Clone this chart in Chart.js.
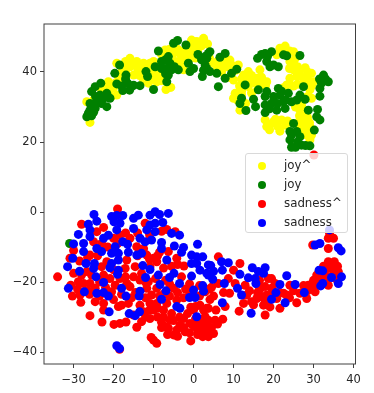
<!DOCTYPE html>
<html>
<head>
<meta charset="utf-8">
<script src="https://cdn.jsdelivr.net/npm/chart.js@4"></script>
<style>
  html, body { margin: 0; padding: 0; background: #fff; }
  #wrap { position: relative; width: 374px; height: 393px; overflow: hidden; }
  #legend {
    position: absolute; left: 245px; top: 153px; width: 103px; height: 80px;
    box-sizing: border-box; border: 1px solid #d9d9d9; border-radius: 3px;
    background: rgba(255, 255, 255, 0.8);
    font: 11.8px "DejaVu Sans", sans-serif; color: #262626;
  }
  .row { position: absolute; left: 0; height: 20px; line-height: 20px; white-space: nowrap; }
  .dot { position: absolute; left: 12px; top: 6px; width: 8px; height: 8px; border-radius: 50%; }
  .lab { position: absolute; left: 38px; top: -1px; }
</style>
</head>
<body>
<div id="wrap">
  <canvas id="chart" width="374" height="393"></canvas>
  <div id="legend"></div>
</div>
<script>
// t-SNE spredning, verdier lest av bildet
const seriesNames = ["joy^", "joy", "sadness^", "sadness"];
const seriesColors = ["#ffff00", "#008000", "#ff0000", "#0000ff"];
const xTicks = [-30, -20, -10, 0, 10, 20, 30, 40];
const yTicks = [-40, -20, 0, 20, 40];

const joyHat = [
  [-25.9,25.6],[-26.7,31.5],[-25,32],[-20.5,33],[-19.2,33.4],[-19.6,36.8],[-18.8,38.7],[-19.2,42.5],
  [-15.9,43.9],[-17.5,42],[-14.2,43],[-12.5,42.5],[-15.9,41.5],[-13.8,40.6],[-15,39.1],[-18.4,38.2],
  [-10.9,42.5],[-10,43],[-10,39.1],[-9.2,37.2],[-11.3,36.8],[-6.9,35],[-5.7,35.6],[-7.1,46.3],
  [-5,45.3],[-3.4,45.3],[-1.7,44.9],[0,48.7],[2.5,49.6],[0.8,47.2],[-0.5,45.3],[-3.4,42.5],
  [-2.5,40.6],[-8.4,39.1],[-9.6,40.6],[-21.3,37.2],[2.5,49.3],[0.8,48.7],[-0.5,46.8],[-0.5,49.1],
  [9.1,43.4],[8.3,41.5],[5,42.5],[11.2,42],[10,37.7],[13.7,40.1],[12.5,39.1],[16.6,40.6],
  [15.8,38.2],[18.3,37.2],[16.6,36.8],[13.7,35.8],[10.4,33.9],[10,32.5],[11.6,29.1],[22.9,47.4],
  [21.6,46.8],[25,45.8],[20.8,44.9],[24.1,43],[25,40.6],[27.9,41.2],[29.5,39.6],[30,37.2],
  [29.1,34.9],[29.5,32.5],[24.1,38.2],[25.8,38.7],[23.3,36.3],[27.5,38.2],[17.9,26.3],[18.3,24.4],
  [20,25.8],[22,26.3],[21.6,23.1],[26.6,29.1],[27,28.2],[27.9,25.8],[29.1,24.4],[28.3,22],
  [29.1,20.6],[27.5,24.4],
  [-25,30],[-23,35],[-22,36],[-21,35],[-20,35.5],[-18,37],[-17,40],[-16,42],[-14,41],[-13,41.5],
  [-15,42.5],[-17,43],[-18,40],[-13.5,39],[-12.5,37.5],[-10.5,38],[-9,39],[-11,41],[-8,45],[-6,46.5],
  [-4,46.5],[-2.5,46],[-6,41],[-4.5,43],[-2,43.5],[-1,44],[0.5,44],[1,46],[2,47.5],[3.5,48],
  [1.5,48.5],[-1,47.5],[-3,44],[-7,39],[-8,37.5],[4,44],[6,43],[7,42],[8,43],[9.5,42],
  [10.5,40.5],[6,41],[7,40],[9,38.5],[12,38],[14,38],[15,37],[14.5,39],[17,38.5],[18,36],
  [16,35],[14.5,34],[12,34.5],[11.5,36],[12,33.5],[11,32],[13,31],[22,46],[24,46],[23,45],
  [25.5,44],[25,42.5],[26,41.5],[24,41],[26.5,39.5],[28.5,40],[28.5,38],[29,36.5],[28,36.5],[26,36.5],
  [25,36],[24,36.5],[22.5,35.5],[29.5,36],[28.5,33],[27,30.5],[25.5,30],[26.5,27.5],[28.5,27],[29,25.5],
  [26.5,26],[28.5,23],[27.5,22.5],[29.5,22],[26.5,24.5],[19,25],[19,23.5],[21,24.5],[20.5,26.5],[23,24.8],[23.5,26]
];
const joy = [
  [-26.7,27.2],[-25.9,29.1],[-24.6,29.6],[-25.9,31],[-25.5,34.4],[-24.6,35.8],[-23.2,36.8],[-23.4,33.4],
  [-21.7,33.9],[-20.9,32.5],[-21.7,30.1],[-24.2,31.5],[-26.3,28.2],[-19.2,36.6],[-19.7,39.6],[-18.5,42],
  [-16.9,39.1],[-16.5,36.8],[-17.7,34.7],[-15.5,35.8],[-13.4,36.1],[-11.5,38.7],[-11.9,40.1],[-10,35],
  [-8.8,46],[-5,48.2],[-4,49],[-1.9,47.7],[-9.6,41.5],[-8,43],[-6.3,44.4],[-5.9,42.5],
  [-7.1,41],[-5.5,40.6],[-6.3,39.1],[-6.7,37.2],[-3.8,40.6],[-1.3,42.5],[-0.9,40.1],[1.1,45],
  [2.2,38.7],[2.9,42],[3.7,45.3],[3.3,41],[4.1,45.8],[3.3,43.9],[4.1,40.1],[5.8,39.6],
  [7.9,45.3],[6.6,44.2],[10.8,40.8],[9.5,39.6],[7.9,38.2],[6.2,35.8],[12.9,36.3],[16,43.9],
  [17.9,45.3],[19.5,45.8],[18.3,43],[19.1,41.5],[21.2,41.5],[22.5,44.9],[23.3,44.6],[26.6,44.7],
  [32.5,39.1],[33.7,37.2],[32,36.8],[31.6,35.3],[31.6,33.1],[27.5,35.8],[16.2,34.9],[18.3,34.4],
  [17.9,33],[12,32.5],[11.6,31],[15,32.2],[15.5,30.1],[13.1,29],[21.2,35.3],[21.6,33.4],
  [23.7,33.9],[22.5,31.5],[25.8,32],[26.6,33.4],[27.9,32.2],[19.5,31],[17.9,30.6],[17.9,28.4],
  [20.8,29.1],[22.9,29.6],[28.7,29.1],[31,29.3],[30.8,27.2],[31.6,26.3],[30.2,23.4],[25,25.3],
  [24.1,23],[25.8,23],[24.1,20.6],[24.5,18.5],[26.6,21.5],[27,19.1],[29.1,18.9],[-31,-9],
  [20,33],[20,31.5],[19,29.5],[21,31],[23,32],[24.5,31.5],[22,34.5],[24.5,22],[26,20],[25.5,18.5],
  [28,19],[-24.5,33],[-23,31],[-22.5,32.5],[-25,28.5],[-25.5,27.5],[-17,38],[-18,36],[-15,36.2],[-16,34.8],
  [-8,41],[-7,43.5],[-7,39.5],[-4.8,41.5],[0,41],[3,44.5],[2,43.5],[2.5,40.5],[17,45],[18.5,44.5],
  [20,42],[31.5,38],[33,38]
];
const sadnessHat = [
  [-19,0.9],[-28,-3.5],[-22.5,-4.4],[-34,-18.5],[-30.9,-13.2],[-30,-17.5],[-30.7,-20.9],[-30.3,-24],
  [-28.2,-25.8],[-24.6,-25.6],[-28.8,-19.9],[-27.5,-20.4],[-25.9,-20.4],[-24.6,-21.8],[-28.4,-23.7],[-26.7,-17],
  [-23,-15.6],[-20.9,-19],[-22.5,-18],[-19.6,-20.9],[-20.5,-22.8],[-18.4,-19],[-17.1,-16.1],[-14.6,-15.6],
  [-15,-18.5],[-15.9,-21.3],[-11.7,-21.8],[-11.3,-19.9],[-10.5,-23.7],[-13.4,-19.4],[-9.2,-21.8],[-22.5,-26.1],
  [-22.5,-28],[-18.8,-27],[-16.3,-26.1],[-25.9,-29.6],[-22.9,-31.4],[-19.9,-32.1],[-18.4,-31.8],[-16.9,-31.4],
  [-14.2,-32.9],[-13,-31.3],[-10.9,-30.4],[-10,-28],[-7.5,-28],[-10.9,-26.1],[-9.2,-26.1],[-6.7,-26.1],
  [-4.2,-25.1],[-5.9,-30.9],[-6.3,-33.2],[-5,-35.1],[-3.4,-32.3],[-2.1,-34.2],[-0.9,-31.8],[-0.7,-36.8],
  [2.3,-35.6],[3.7,-35.6],[0.8,-33.2],[3.3,-32.8],[1.6,-26.6],[-0.7,-27.2],[3.7,-27.5],[2.9,-29.9],
  [-10.6,-35.8],[-10,-36.6],[-9.2,-37.5],[-2.4,-15.4],[-4.2,-13.2],[-6.3,-11.3],[-10,-13.2],[-11.7,-12.3],
  [-15.9,-7.5],[-14.2,-9.9],[-18.4,-6.6],[-20,-7.5],[-25.9,-12.3],[-25,-8.5],[-24.2,-5.6],[-6.7,-5],
  [-4.6,-5.6],[-12.1,-3.2],[-16.7,-20.4],[-21.7,-14.2],[-16.7,-13.7],[-10.9,-15.6],[-5,-21.8],[-9.2,-14.2],
  [-18,-26.6],[-15,-29.4],[-13.4,-26.6],[-2.5,-30.4],[-7.1,-32.8],[-4.2,-33.7],[2.5,-33.2],[-18.5,-39.2],
  [29.8,-9.4],[33.7,-7.5],[35,-7.5],[33.7,-10.4],[34,-6],[33.7,-14.2],[35.2,-14.2],[34.5,-16.1],
  [36.2,-17],[30.8,-18],[33.3,-18.5],[30,-21.8],[28.7,-20.9],[30.4,-22.8],[28.3,-24.7],[26.6,-23.2],
  [25.8,-25.9],[24.1,-20.9],[21.6,-27.5],[23.3,-23.7],[20.4,-20.4],[19.5,-21.8],[17.9,-29.4],[17.5,-26.6],
  [16.6,-22],[15.8,-24.7],[14.5,-25.6],[12.5,-26.1],[11.4,-28.3],[12.9,-20.9],[11.6,-14.7],[10,-16.6],
  [8.7,-19],[10.4,-20.4],[7.5,-23],[9,-23.2],[6.2,-12.8],[6.2,-20.4],[7.9,-27],[5.6,-28],
  [4.1,-25],[3.3,-27.5],[3.7,-30.9],[7.3,-30.6],[5.4,-30.9],[5,-34.7],[3.7,-34.2],[2,-35.1],
  [19.1,-27.1],[18.3,-23.7],[17,-24.2],[18.7,-19],[16.2,-20.9],[17.9,-21.3],[20.8,-24.7],[22.5,-23.2],
  [32.1,-18.9],[35,-17.5],[33.7,-20.9],[31.2,-20.1],[13.3,-23.7],[2.9,-22.8],[2.6,-31.8],[30.1,16.3],
  [-12,-24.5],[-9,-30],[-7.5,-23.5],[-5.5,-29],[-2,-22],[0,-28],[-12.5,-28.5],[-8,-33],
  [0.5,-30.5],[1.5,-21],[-26,-23.5],[-20,-16.5],[-14,-12.5],[-7.5,-16],[-3,-18.5],[-1,-20.5],
  [-30,-11],[-28.5,-14],[-26.5,-13],[-24,-12.5],[-23,-9],[-21.5,-10],[-19,-9],[-17,-6],[-14,-6],[-12.5,-10.5],
  [-11,-6.5],[-8.5,-11.5],[-8,-5.5],[-9,-12.5],[-5.5,-15.5],[-4,-15],[-28,-18],[-25.5,-18],[-23.5,-20],[-26.5,-22.5],
  [-29,-22],[-22,-21.5],[-23.5,-24],[-20,-25],[-18,-23.5],[-15.5,-24.5],[-14.5,-23],[-12,-20],[-9.5,-19],[-7,-19.5],
  [-6,-20.5],[-4,-23],[-2.5,-24.5],[-1,-23],[1.5,-24],[4,-22],[5,-24],[4.5,-21.5],[-13,-17.5],[-17,-18.5],
  [-11,-13.5],[-8.5,-24],[-6,-24],[-11,-28],[-9,-27.5],[-7.5,-30],[-5,-31],[-3.5,-30],[-1.5,-29],[-12,-30],
  [-8,-31.5],[-6.5,-35],[-4,-35.5],[-2.5,-33],[-1,-34.5],[1,-35],[0,-32.5],[1.5,-31.5],[2.5,-28],[0.5,-27],
  [4.5,-33],[6,-32],[14,-22.5],[16,-23],[15,-26.5],[18,-25.5],[19,-24],[16.5,-19.5],[19.5,-19],[21.5,-23],
  [24,-24.5],[25,-22.5],[27.5,-21],[28.5,-22.5],[30,-19.5],[31.5,-17.5],[32.5,-15.5],[33,-16.5],[36,-15.5],[35.5,-19]
];
const sadness = [
  [-24.9,-0.7],[-24.2,-2.6],[-26.3,-3.5],[-25.9,-5.1],[-28.8,-6.4],[-25.9,-7],[-27.5,-9],[-30,-9.1],
  [-27.5,-11.3],[-30.2,-13.2],[-31.5,-15.6],[-26.9,-14.7],[-24.8,-14.7],[-25,-16.1],[-28.5,-16.9],[-24.4,-18.5],
  [-22.5,-20.1],[-31.3,-21.8],[-27.3,-22.8],[-24.2,-23.2],[-22.5,-23],[-21.3,-24],[-18,-21.8],[-16.9,-24],
  [-13.4,-22.6],[-13.6,-24],[-8,-24.9],[-8.4,-20.7],[-6.9,-22.5],[-21.1,-28.5],[-16.1,-29],[-14.6,-29.6],
  [-13.5,-28.5],[-19.2,-38.2],[-18.5,-39],[-20.5,-1.3],[-19.2,-1],[-17.7,-1],[-19.9,-2.8],[-18.4,-3.2],
  [-19.2,-5.1],[-15,-4.7],[-15,-1.8],[-13.8,-0.9],[-10.9,-0.9],[-9.6,0.1],[-8.5,-0.7],[-6.3,-0.4],
  [-7.7,-3],[-9.6,-3.2],[-10.9,-3.7],[-11.7,-5.1],[-9.6,-5.6],[-5.5,-6.1],[-3.5,-6.6],[-22.5,-7.5],
  [-21.3,-6.6],[-24.2,-10.4],[-23,-11.3],[-19.6,-9.9],[-20.5,-11.8],[-18.8,-11.8],[-17.7,-8.5],[-16.5,-9.2],
  [-16.3,-11.5],[-14.2,-12.3],[-13,-11.8],[-13.4,-7.5],[-12.1,-8.5],[-10.5,-8],[-8,-8.7],[-8,-10.4],
  [-6.7,-13.7],[-4.8,-9.7],[-2.5,-10.1],[-3,-11.5],[1,-9.2],[-0.5,-12.3],[0.8,-12.8],[2.3,-12.8],
  [-0.5,-14.7],[0.8,-14.7],[1.6,-16.6],[3.7,-15.1],[3.7,-18],[-0.5,-18.3],[-18.8,-13.7],[-20.5,-14.7],
  [-20.9,-15.9],[-18.8,-16.6],[-19,-17.8],[-12.7,-15.3],[-10.9,-16.4],[-8.8,-18],[-12,-18.7],[-6,-18.7],
  [-4.9,-17.5],[-3.5,-20.4],[2.3,-21],[2.5,-22.6],[0,-22.3],[-1,-24.4],[0.4,-24.4],[-4.2,-27],
  [-3.4,-27.5],[0.8,-29.9],[4.3,-15.3],[3.3,-17.5],[5,-16.9],[4.8,-19.2],[7.2,-16.6],[7,-14.2],
  [8.7,-14.5],[7.7,-20.4],[11,-21.8],[12,-23.7],[11.6,-17.8],[13.7,-18.8],[14.7,-15.9],[15.4,-19],
  [15.6,-20.4],[16.2,-17],[17.9,-15.9],[17.5,-17.5],[21.6,-20.7],[23.3,-18.2],[25.4,-20.7],[20.6,-23],
  [19.5,-24.9],[22.9,-25.9],[27.7,-23],[7.2,-25.9],[14.4,-28.9],[30.4,-9.4],[31.6,-9],[36.2,-10.2],
  [36.9,-11.1],[31.4,-16.6],[32.3,-16.8],[34.5,-18.7],[37,-18.5],[36.2,-20.4],[32.3,-20.4],[31.8,-21.1],
  [34,-5.1]
];
const seriesData = [joyHat, joy, sadnessHat, sadness];

const FONT = '"DejaVu Sans", sans-serif';
const INK = "#262626";

const tickOptions = () => ({
  display: true,
  color: INK,
  font: { family: FONT, size: 11.5 },
  padding: 3,
  maxRotation: 0,
  autoSkip: false,
  callback: (v) => String(v).replace("-", "\u2212"),
});

// Rammen rundt plottet, alle fire sider
const framePlugin = {
  id: "frame",
  afterDraw(chart) {
    const { ctx, chartArea: a } = chart;
    ctx.save();
    ctx.strokeStyle = "#404040";
    ctx.lineWidth = 1;
    ctx.strokeRect(a.left, a.top, a.right - a.left, a.bottom - a.top);
    ctx.restore();
  },
};

new Chart(document.getElementById("chart").getContext("2d"), {
  type: "scatter",
  data: {
    datasets: seriesNames.map((name, i) => ({
      label: name,
      data: seriesData[i].map(([x, y]) => ({ x, y })),
      backgroundColor: seriesColors[i],
      borderWidth: 0,
      pointRadius: 4.5,
      // senere serier skal ligge oppå
      order: seriesNames.length - i,
    })),
  },
  options: {
    responsive: false,
    animation: false,
    layout: { padding: { top: 24, right: 18.5, left: 0, bottom: 0 } },
    plugins: { legend: { display: false }, tooltip: { enabled: false } },
    scales: {
      x: {
        type: "linear",
        min: -37.4,
        max: 40.5,
        afterBuildTicks: (axis) => { axis.ticks = xTicks.map((value) => ({ value })); },
        afterFit: (axis) => { axis.height = 29; },
        grid: { drawOnChartArea: false, drawTicks: true, tickLength: 4, tickColor: "#404040" },
        border: { display: false },
        ticks: { ...tickOptions(), padding: 5 },
      },
      y: {
        type: "linear",
        min: -43.4,
        max: 53.7,
        afterBuildTicks: (axis) => { axis.ticks = yTicks.map((value) => ({ value })); },
        afterFit: (axis) => { axis.width = 44; },
        grid: { drawOnChartArea: false, drawTicks: true, tickLength: 4, tickColor: "#404040" },
        border: { display: false },
        ticks: tickOptions(),
      },
    },
  },
  plugins: [framePlugin],
});

const legendEl = document.getElementById("legend");
seriesNames.forEach((name, i) => {
  const row = document.createElement("div");
  row.className = "row";
  row.style.top = 2 + i * 19 + "px";
  row.style.width = "100%";
  row.innerHTML = `<span class="dot" style="background:${seriesColors[i]}"></span><span class="lab">${name}</span>`;
  legendEl.appendChild(row);
});
</script>
</body>
</html>
